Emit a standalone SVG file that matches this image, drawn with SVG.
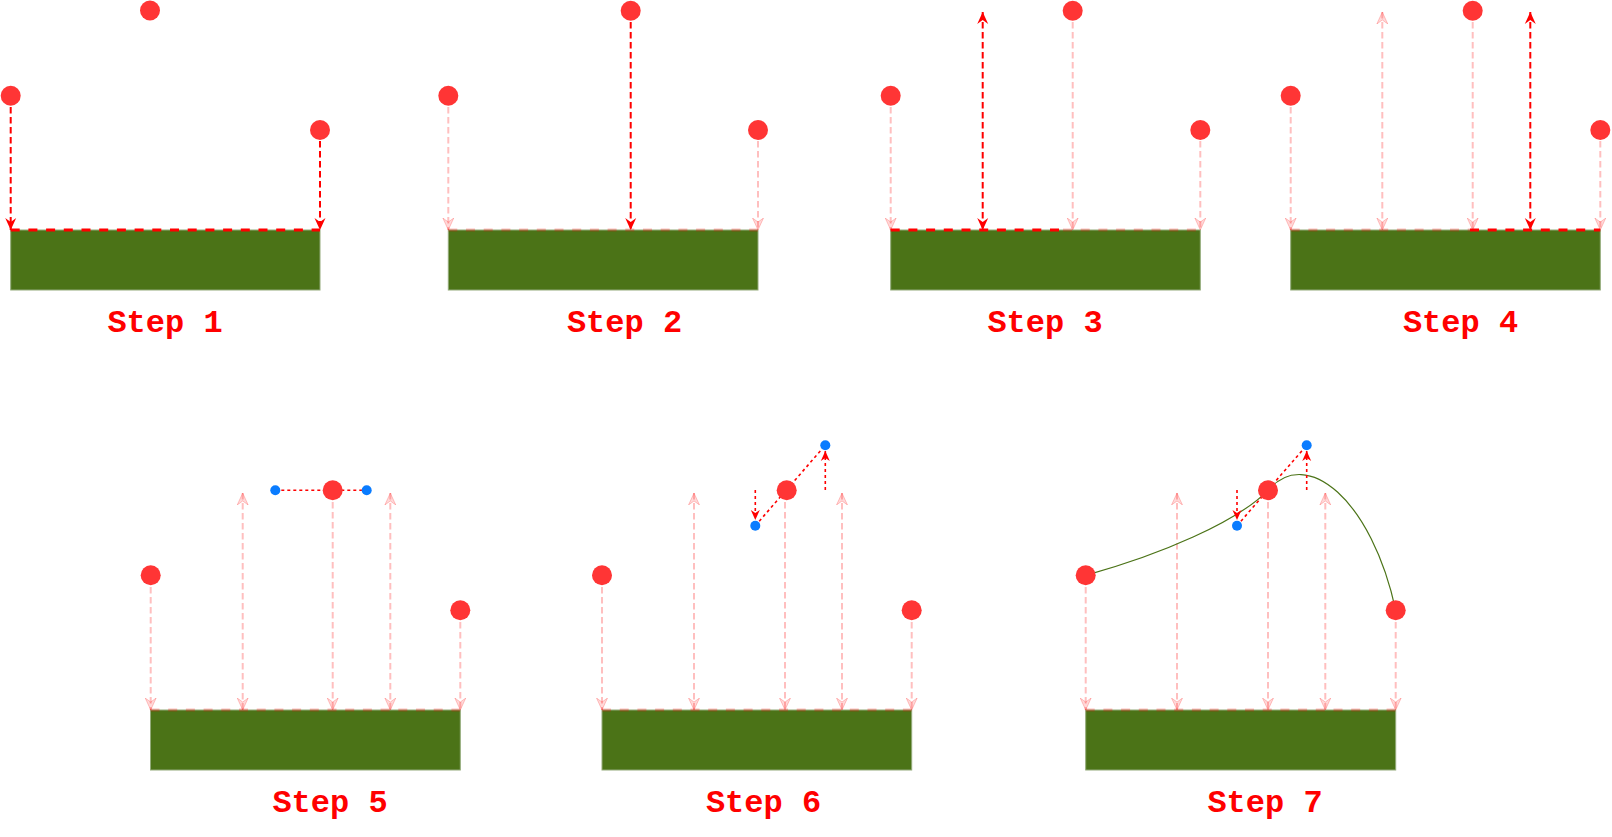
<svg xmlns="http://www.w3.org/2000/svg" width="1612" height="837" viewBox="0 0 1612 837">
<defs>
<style>
.bg{fill:#ffffff}
.pt{fill:#ff3535}
.cp{fill:#0a7cff}
.ground{fill:#4b7317;stroke:#93aa7a;stroke-width:1}
.v{stroke:#ff0000;stroke-width:2;stroke-dasharray:6.5,3.5;fill:none}
.vf{stroke:#ff0000;stroke-opacity:0.25;stroke-width:2;stroke-dasharray:6.5,3.5;fill:none}
.h{stroke:#ff0000;stroke-width:3;stroke-dasharray:9,8.7;fill:none}
.hf{stroke:#ff0000;stroke-opacity:0.25;stroke-width:3;stroke-dasharray:9,8.7;fill:none}
.dot{stroke:#ff0000;stroke-width:1.6;stroke-dasharray:3,3;fill:none}
.curve{stroke:#4b7317;stroke-width:1.2;fill:none}
.lbl{font-family:"Liberation Mono","Courier New",monospace;font-weight:bold;font-size:32px;fill:#ff0000;text-anchor:middle}
</style>
<marker id="a" viewBox="0 0 12 12" markerWidth="12" markerHeight="12" refX="12" refY="6" orient="auto-start-reverse" markerUnits="userSpaceOnUse">
<path d="M0,0.5 L12,6 L0,11.5 L4,6 z" fill="#ff0000"/>
</marker>
<marker id="af" viewBox="0 0 12 12" markerWidth="12" markerHeight="12" refX="12" refY="6" orient="auto-start-reverse" markerUnits="userSpaceOnUse">
<path d="M0,0.5 L12,6 L0,11.5 L4,6 z" fill="#ff0000" fill-opacity="0.15" stroke="#ff0000" stroke-opacity="0.22" stroke-width="1"/>
</marker>
<marker id="as" viewBox="0 0 10 10" markerWidth="10" markerHeight="10" refX="10" refY="5" orient="auto" markerUnits="userSpaceOnUse">
<path d="M0,0.5 L10,5 L0,9.5 L3,5 z" fill="#ff0000"/>
</marker>
</defs>
<rect class="bg" x="0" y="0" width="1612" height="837"/>

<g id="ground-1"><rect class="ground" x="10.7" y="230" width="309.3" height="60"/></g>
<g id="ground-2"><rect class="ground" x="448.3" y="230" width="309.7" height="60"/></g>
<g id="ground-3"><rect class="ground" x="890.7" y="230" width="309.6" height="60"/></g>
<g id="ground-4"><rect class="ground" x="1290.7" y="230" width="309.6" height="60"/></g>
<g id="ground-5"><rect class="ground" x="150.5" y="710" width="309.8" height="60"/></g>
<g id="ground-6"><rect class="ground" x="602" y="710" width="309.7" height="60"/></g>
<g id="ground-7"><rect class="ground" x="1085.7" y="710" width="310" height="60"/></g>

<g id="connectors">
<!-- Step 1 -->
<line class="h" x1="10.7" y1="230" x2="320" y2="230"/>
<line class="v" x1="10.7" y1="107" x2="10.7" y2="230" marker-end="url(#a)"/>
<line class="v" x1="320" y1="141" x2="320" y2="230" marker-end="url(#a)"/>
<!-- Step 2 -->
<line class="hf" x1="448.3" y1="230" x2="758" y2="230"/>
<line class="vf" x1="448.3" y1="107" x2="448.3" y2="230" marker-end="url(#af)"/>
<line class="v" x1="630.7" y1="22" x2="630.7" y2="230" marker-end="url(#a)"/>
<line class="vf" x1="758" y1="141" x2="758" y2="230" marker-end="url(#af)"/>
<!-- Step 3 -->
<line class="h" x1="890.7" y1="230" x2="1063" y2="230"/>
<line class="hf" x1="1063" y1="230" x2="1200.3" y2="230"/>
<line class="vf" x1="890.7" y1="107" x2="890.7" y2="230" marker-end="url(#af)"/>
<line class="v" x1="982.7" y1="12" x2="982.7" y2="230" marker-start="url(#a)" marker-end="url(#a)"/>
<line class="vf" x1="1072.7" y1="22" x2="1072.7" y2="230" marker-end="url(#af)"/>
<line class="vf" x1="1200.3" y1="141" x2="1200.3" y2="230" marker-end="url(#af)"/>
<!-- Step 4 -->
<line class="hf" x1="1290.7" y1="230" x2="1470" y2="230"/>
<line class="h" x1="1470" y1="230" x2="1600.3" y2="230"/>
<line class="vf" x1="1290.7" y1="107" x2="1290.7" y2="230" marker-end="url(#af)"/>
<line class="vf" x1="1382.3" y1="12" x2="1382.3" y2="230" marker-start="url(#af)" marker-end="url(#af)"/>
<line class="vf" x1="1472.7" y1="22" x2="1472.7" y2="230" marker-end="url(#af)"/>
<line class="v" x1="1530.3" y1="12" x2="1530.3" y2="230" marker-start="url(#a)" marker-end="url(#a)"/>
<line class="vf" x1="1600.3" y1="141" x2="1600.3" y2="230" marker-end="url(#af)"/>
<!-- Step 5 -->
<line class="hf" x1="150.5" y1="710" x2="460.3" y2="710"/>
<line class="vf" x1="150.7" y1="587" x2="150.7" y2="710" marker-end="url(#af)"/>
<line class="vf" x1="242.7" y1="493" x2="242.7" y2="710" marker-start="url(#af)" marker-end="url(#af)"/>
<line class="vf" x1="332.7" y1="502" x2="332.7" y2="710" marker-end="url(#af)"/>
<line class="vf" x1="390.3" y1="493" x2="390.3" y2="710" marker-start="url(#af)" marker-end="url(#af)"/>
<line class="vf" x1="460.3" y1="622" x2="460.3" y2="710" marker-end="url(#af)"/>
<line class="dot" x1="275.3" y1="490.3" x2="366.7" y2="490.3"/>
<!-- Step 6 -->
<line class="hf" x1="602" y1="710" x2="911.7" y2="710"/>
<line class="vf" x1="602" y1="587" x2="602" y2="710" marker-end="url(#af)"/>
<line class="vf" x1="694" y1="493" x2="694" y2="710" marker-start="url(#af)" marker-end="url(#af)"/>
<line class="vf" x1="785" y1="502" x2="785" y2="710" marker-end="url(#af)"/>
<line class="vf" x1="842" y1="493" x2="842" y2="710" marker-start="url(#af)" marker-end="url(#af)"/>
<line class="vf" x1="911.7" y1="622" x2="911.7" y2="710" marker-end="url(#af)"/>
<line class="dot" x1="755.3" y1="525.7" x2="825.3" y2="445.3"/>
<line class="dot" x1="755.3" y1="490" x2="755.3" y2="520" stroke-dasharray="4,3" marker-end="url(#as)"/>
<line class="dot" x1="825.3" y1="490" x2="825.3" y2="451" stroke-dasharray="4,3" marker-end="url(#as)"/>
<!-- Step 7 -->
<line class="hf" x1="1085.7" y1="710" x2="1395.7" y2="710"/>
<line class="vf" x1="1085.7" y1="587" x2="1085.7" y2="710" marker-end="url(#af)"/>
<line class="vf" x1="1177" y1="493" x2="1177" y2="710" marker-start="url(#af)" marker-end="url(#af)"/>
<line class="vf" x1="1268" y1="502" x2="1268" y2="710" marker-end="url(#af)"/>
<line class="vf" x1="1325.3" y1="493" x2="1325.3" y2="710" marker-start="url(#af)" marker-end="url(#af)"/>
<line class="vf" x1="1395.7" y1="622" x2="1395.7" y2="710" marker-end="url(#af)"/>
<path class="curve" d="M1085.7,575.3 C1160,555 1237,522 1268,490.3 C1306.7,445.3 1372,500 1395.7,610.3"/>
<line class="dot" x1="1237" y1="525.7" x2="1306.7" y2="445.3"/>
<line class="dot" x1="1237" y1="490" x2="1237" y2="520" stroke-dasharray="4,3" marker-end="url(#as)"/>
<line class="dot" x1="1306.7" y1="490" x2="1306.7" y2="451" stroke-dasharray="4,3" marker-end="url(#as)"/>
</g>

<g id="points-1"><circle class="pt" cx="150" cy="10.5" r="10"/><circle class="pt" cx="10.7" cy="95.7" r="10"/><circle class="pt" cx="320" cy="130" r="10"/></g>
<g id="points-2"><circle class="pt" cx="448.3" cy="95.7" r="10"/><circle class="pt" cx="630.7" cy="10.7" r="10"/><circle class="pt" cx="758" cy="130" r="10"/></g>
<g id="points-3"><circle class="pt" cx="890.7" cy="95.7" r="10"/><circle class="pt" cx="1072.7" cy="10.7" r="10"/><circle class="pt" cx="1200.3" cy="130" r="10"/></g>
<g id="points-4"><circle class="pt" cx="1290.7" cy="95.7" r="10"/><circle class="pt" cx="1472.7" cy="10.7" r="10"/><circle class="pt" cx="1600.3" cy="130" r="10"/></g>
<g id="points-5"><circle class="pt" cx="150.7" cy="575.3" r="10"/><circle class="pt" cx="332.7" cy="490.3" r="10"/><circle class="pt" cx="460.3" cy="610.3" r="10"/><circle class="cp" cx="275.3" cy="490.3" r="5"/><circle class="cp" cx="366.7" cy="490.3" r="5"/></g>
<g id="points-6"><circle class="pt" cx="602" cy="575.3" r="10"/><circle class="pt" cx="786.7" cy="490.3" r="10"/><circle class="pt" cx="911.7" cy="610.3" r="10"/><circle class="cp" cx="755.3" cy="525.7" r="5"/><circle class="cp" cx="825.3" cy="445.3" r="5"/></g>
<g id="points-7"><circle class="pt" cx="1085.7" cy="575.3" r="10"/><circle class="pt" cx="1268" cy="490.3" r="10"/><circle class="pt" cx="1395.7" cy="610.3" r="10"/><circle class="cp" cx="1237" cy="525.7" r="5"/><circle class="cp" cx="1306.7" cy="445.3" r="5"/></g>

<g id="labels">
<text class="lbl" x="165" y="332">Step 1</text>
<text class="lbl" x="624.5" y="332">Step 2</text>
<text class="lbl" x="1045" y="332">Step 3</text>
<text class="lbl" x="1460.5" y="332">Step 4</text>
<text class="lbl" x="330" y="812">Step 5</text>
<text class="lbl" x="763.5" y="812">Step 6</text>
<text class="lbl" x="1265" y="812">Step 7</text>
</g>
</svg>
